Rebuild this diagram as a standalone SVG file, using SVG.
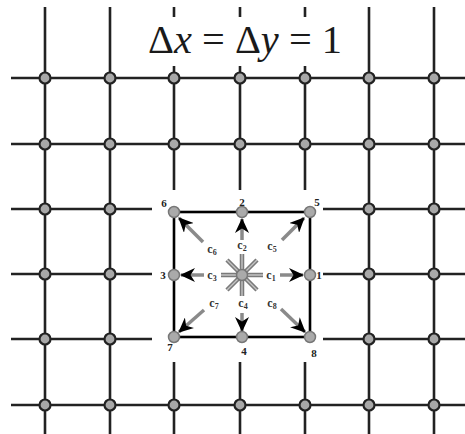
<svg xmlns="http://www.w3.org/2000/svg" width="465" height="434" viewBox="0 0 465 434">
<defs>
<style>
.g{stroke:#222;stroke-width:2.6;fill:none}
.gn{fill:#a8a8a8;stroke:#222;stroke-width:2.2}
.sn{fill:#aaa;stroke:#777;stroke-width:1.5}
.sq{stroke:#000;stroke-width:2.6;fill:none}
.sp{stroke:#7a7a7a;stroke-width:4.5;fill:none}
.spi{stroke:#c4c4c4;stroke-width:1.4;fill:none}
.ar{stroke:#8a8a8a;stroke-width:3.5;fill:none;marker-end:url(#ah)}
.lb{font-family:"Liberation Serif",serif;font-weight:bold;font-size:11px;fill:#222;text-anchor:middle}
.cl{font-family:"Liberation Serif",serif;font-weight:bold;font-size:12px;fill:#333;text-anchor:middle}
.sub{font-size:8px}
.tt{font-family:"Liberation Serif","DejaVu Serif",serif;font-size:40px;fill:#1a1a1a}
</style>
<marker id="ah" markerUnits="userSpaceOnUse" markerWidth="16" markerHeight="14" refX="14" refY="7" orient="auto">
<path d="M0,0 L15,7 L0,14 L4.5,7 z" fill="#000"/>
</marker>
</defs>
<rect width="465" height="434" fill="#fff"/>
<g id="grid">
<line class="g" x1="45" y1="7" x2="45" y2="434"/>
<line class="g" x1="110" y1="7" x2="110" y2="434"/>
<line class="g" x1="369" y1="7" x2="369" y2="434"/>
<line class="g" x1="434" y1="7" x2="434" y2="434"/>
<path class="g" d="M174,7V17M174,66V190M174,362V434"/>
<path class="g" d="M240,7V17M240,66V190M240,362V434"/>
<path class="g" d="M305,7V17M305,66V190M305,362V434"/>
<line class="g" x1="11" y1="78" x2="465" y2="78"/>
<line class="g" x1="11" y1="144" x2="465" y2="144"/>
<line class="g" x1="11" y1="405" x2="465" y2="405"/>
<path class="g" d="M11,209H152M323,209H465"/>
<path class="g" d="M11,274H152M323,274H465"/>
<path class="g" d="M11,339H152M323,339H465"/>
</g>
<g id="grid-nodes">
<circle class="gn" cx="45" cy="78" r="5.5"/><circle class="gn" cx="110" cy="78" r="5.5"/><circle class="gn" cx="174" cy="78" r="5.5"/><circle class="gn" cx="240" cy="78" r="5.5"/><circle class="gn" cx="305" cy="78" r="5.5"/><circle class="gn" cx="369" cy="78" r="5.5"/><circle class="gn" cx="434" cy="78" r="5.5"/>
<circle class="gn" cx="45" cy="144" r="5.5"/><circle class="gn" cx="110" cy="144" r="5.5"/><circle class="gn" cx="174" cy="144" r="5.5"/><circle class="gn" cx="240" cy="144" r="5.5"/><circle class="gn" cx="305" cy="144" r="5.5"/><circle class="gn" cx="369" cy="144" r="5.5"/><circle class="gn" cx="434" cy="144" r="5.5"/>
<circle class="gn" cx="45" cy="209" r="5.5"/><circle class="gn" cx="110" cy="209" r="5.5"/><circle class="gn" cx="369" cy="209" r="5.5"/><circle class="gn" cx="434" cy="209" r="5.5"/>
<circle class="gn" cx="45" cy="274" r="5.5"/><circle class="gn" cx="110" cy="274" r="5.5"/><circle class="gn" cx="369" cy="274" r="5.5"/><circle class="gn" cx="434" cy="274" r="5.5"/>
<circle class="gn" cx="45" cy="339" r="5.5"/><circle class="gn" cx="110" cy="339" r="5.5"/><circle class="gn" cx="369" cy="339" r="5.5"/><circle class="gn" cx="434" cy="339" r="5.5"/>
<circle class="gn" cx="45" cy="405" r="5.5"/><circle class="gn" cx="110" cy="405" r="5.5"/><circle class="gn" cx="174" cy="405" r="5.5"/><circle class="gn" cx="240" cy="405" r="5.5"/><circle class="gn" cx="305" cy="405" r="5.5"/><circle class="gn" cx="369" cy="405" r="5.5"/><circle class="gn" cx="434" cy="405" r="5.5"/>
</g>
<g id="title">
<text class="tt" x="148" y="53" textLength="194" lengthAdjust="spacingAndGlyphs">Δ<tspan font-style="italic">x</tspan> = Δ<tspan font-style="italic">y</tspan> = 1</text>
</g>
<g id="stencil-square">
<rect class="sq" x="174" y="212" width="136" height="125"/>
</g>
<g id="connectors">
<path class="sp" d="M221,275H263M242,254V296M227,260L257,290M227,290L257,260"/>
<path class="spi" d="M221,275H263M242,254V296M227,260L257,290M227,290L257,260"/>
<line class="ar" x1="280" y1="275" x2="303" y2="275"/>
<line class="ar" x1="242" y1="240" x2="242" y2="219"/>
<line class="ar" x1="204" y1="275" x2="181" y2="275"/>
<line class="ar" x1="242" y1="313" x2="242" y2="331"/>
<line class="ar" x1="282" y1="240" x2="304" y2="218"/>
<line class="ar" x1="203" y1="242" x2="179" y2="218"/>
<line class="ar" x1="204" y1="310" x2="179" y2="332"/>
<line class="ar" x1="281" y1="309" x2="305" y2="332"/>
</g>
<g id="stencil-nodes">
<g id="n6"><circle class="sn" cx="174" cy="212" r="5.5"/><text class="lb" x="164" y="207">6</text></g>
<g id="n2"><circle class="sn" cx="242" cy="212" r="5.5"/><text class="lb" x="242" y="206">2</text></g>
<g id="n5"><circle class="sn" cx="310" cy="212" r="5.5"/><text class="lb" x="317" y="206">5</text></g>
<g id="n3"><circle class="sn" cx="174" cy="275" r="5.5"/><text class="lb" x="163" y="279">3</text></g>
<g id="n0"><circle class="sn" cx="242" cy="275" r="5.5"/></g>
<g id="n1"><circle class="sn" cx="310" cy="275" r="5.5"/><text class="lb" x="319" y="279">1</text></g>
<g id="n7"><circle class="sn" cx="174" cy="337" r="5.5"/><text class="lb" x="170" y="351">7</text></g>
<g id="n4"><circle class="sn" cx="242" cy="337" r="5.5"/><text class="lb" x="244" y="355">4</text></g>
<g id="n8"><circle class="sn" cx="310" cy="337" r="5.5"/><text class="lb" x="314" y="357">8</text></g>
</g>
<g id="labels">
<text class="cl" x="271" y="279">c<tspan class="sub" dy="2">1</tspan></text>
<text class="cl" x="242" y="249">c<tspan class="sub" dy="2">2</tspan></text>
<text class="cl" x="212" y="279">c<tspan class="sub" dy="2">3</tspan></text>
<text class="cl" x="243" y="307">c<tspan class="sub" dy="2">4</tspan></text>
<text class="cl" x="272" y="250">c<tspan class="sub" dy="2">5</tspan></text>
<text class="cl" x="212" y="253">c<tspan class="sub" dy="2">6</tspan></text>
<text class="cl" x="214" y="307">c<tspan class="sub" dy="2">7</tspan></text>
<text class="cl" x="272" y="307">c<tspan class="sub" dy="2">8</tspan></text>
</g>
</svg>
